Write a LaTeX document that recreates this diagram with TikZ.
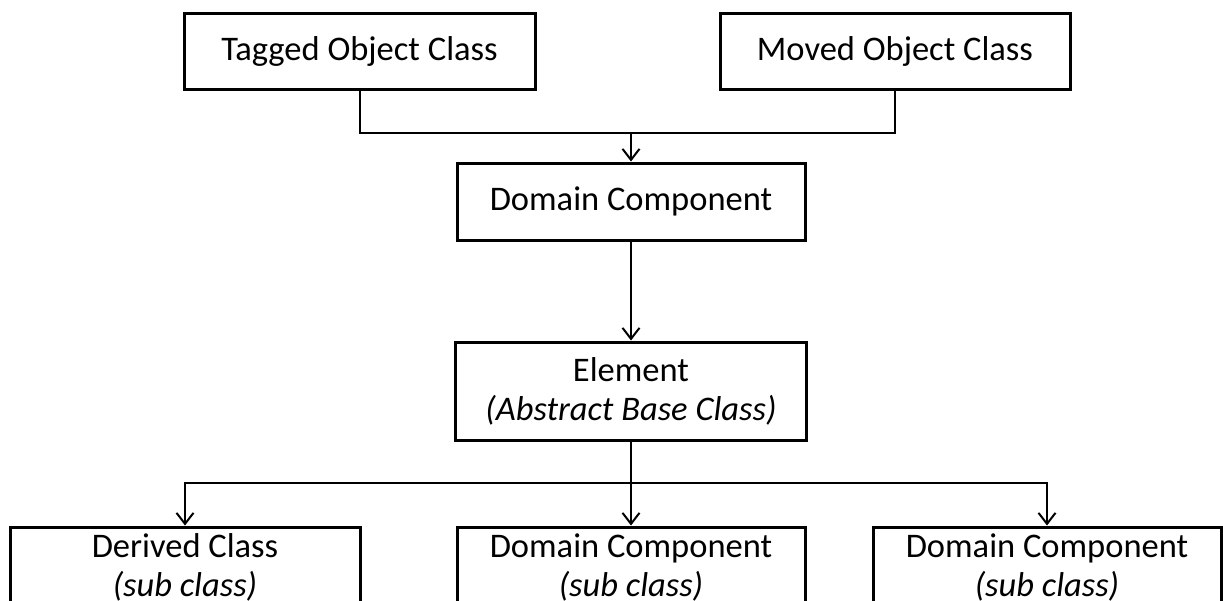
\documentclass[tikz,border=0pt]{standalone}
\usepackage{fontspec}
\setmainfont{Carlito}
\usetikzlibrary{arrows.meta}
\begin{document}
\begin{tikzpicture}[x=1pt,y=-1pt,
  box/.style={draw, line width=3pt, fill=white, align=center, inner sep=0pt,
    font=\fontsize{34.5}{39}\selectfont},
  link/.style={line width=2pt},
  arr/.style={link, -{Straight Barb[length=11pt,width=17pt,line width=2pt]}}]
  \clip (0,0) rectangle (1223,600);
  \fill[white] (0,0) rectangle (1223,600);

  % top row
  \node[box, minimum width=351pt, minimum height=76pt] (tag) at (359.5,51) {Tagged Object Class};
  \node[box, minimum width=350pt, minimum height=76pt] (moved) at (895,51) {Moved Object Class};

  % domain component
  \node[box, minimum width=348pt, minimum height=77pt] (dc) at (631,201.5) {Domain Component};

  % abstract base class
  \node[box, minimum width=351pt, minimum height=98pt] (el) at (631,391)
    {Element\\\textit{(Abstract Base Class)}};

  % sub classes, running past the lower edge
  \node[box, minimum width=350pt, minimum height=80pt] (der) at (185,567)
    {Derived Class\\\textit{(sub class)}};
  \node[box, minimum width=348pt, minimum height=80pt] (sub1) at (631,567)
    {Domain Component\\\textit{(sub class)}};
  \node[box, minimum width=348pt, minimum height=80pt] (sub2) at (1047,567)
    {Domain Component\\\textit{(sub class)}};

  % junctions
  \coordinate (j1) at (631,133);
  \coordinate (j2) at (631,483);

  \draw[link] (tag.south) |- (j1) -| (moved.south);
  \draw[arr] (j1) -- (dc.north);
  \draw[arr] (dc.south) -- (el.north);
  \draw[link] (el.south) -- (j2);
  \draw[arr] (j2) -| (der.north);
  \draw[arr] (j2) -- (sub1.north);
  \draw[arr] (j2) -| (sub2.north);
\end{tikzpicture}
\end{document}
